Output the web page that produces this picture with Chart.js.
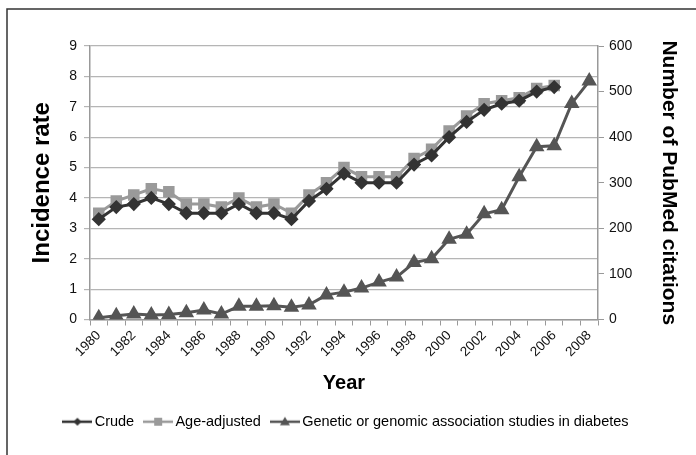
<!DOCTYPE html>
<html lang="en">
<head>
  <meta charset="UTF-8">
  <title>Incidence rate and PubMed citations</title>
  <script src="https://cdn.jsdelivr.net/npm/chart.js"></script>
  <style>
    html, body { margin: 0; padding: 0; background: #fff; }
    #wrap { width: 696px; height: 455px; position: relative; }
  </style>
</head>
<body>
  <div id="wrap"><canvas id="chart" width="696" height="455"></canvas></div>

  <script>
    // Years on the x axis
    const years = ['1980','1981','1982','1983','1984','1985','1986','1987','1988','1989',
                   '1990','1991','1992','1993','1994','1995','1996','1997','1998','1999',
                   '2000','2001','2002','2003','2004','2005','2006','2007','2008'];

    // Incidence rate (left axis), 1980-2006
    const crude = [3.3, 3.7, 3.8, 4.0, 3.8, 3.5, 3.5, 3.5, 3.8, 3.5,
                   3.5, 3.3, 3.9, 4.3, 4.8, 4.5, 4.5, 4.5, 5.1, 5.4,
                   6.0, 6.5, 6.9, 7.1, 7.2, 7.5, 7.65];
    const ageAdjusted = [3.5, 3.9, 4.1, 4.3, 4.2, 3.8, 3.8, 3.7, 4.0, 3.7,
                         3.8, 3.5, 4.1, 4.5, 5.0, 4.7, 4.7, 4.7, 5.3, 5.6,
                         6.2, 6.7, 7.1, 7.2, 7.3, 7.6, 7.7];

    // PubMed citations (right axis), 1980-2008
    const citations = [4, 8, 12, 10, 11, 15, 21, 12, 29, 29,
                       30, 27, 32, 54, 60, 69, 82, 93, 125, 133,
                       176, 187, 232, 241, 313, 379, 381, 474, 523];

    const seriesNames = ['Crude', 'Age-adjusted', 'Genetic or genomic association studies in diabetes'];

    const FONT = "'Liberation Sans', Arial, sans-serif";

    // small picture of line + marker for the legend
    function legendIcon(color, style, r) {
      const c = document.createElement('canvas');
      c.width = 30; c.height = 14;
      const g = c.getContext('2d');
      g.strokeStyle = color; g.lineWidth = 2.5;
      g.beginPath(); g.moveTo(0, 7); g.lineTo(30, 7); g.stroke();
      g.fillStyle = color;
      g.beginPath();
      if (style === 'rectRot') {
        g.moveTo(15, 7 - r); g.lineTo(15 + r, 7); g.lineTo(15, 7 + r); g.lineTo(15 - r, 7);
      } else if (style === 'rect') {
        g.rect(15 - r, 7 - r, 2 * r, 2 * r);
      } else {
        g.moveTo(15, 7 - r); g.lineTo(15 + r, 7 + r * 0.7); g.lineTo(15 - r, 7 + r * 0.7);
      }
      g.closePath(); g.fill();
      return c;
    }

    const frame = {
      id: 'frame',
      beforeDraw(chart) {
        const ctx = chart.ctx;
        ctx.save();
        ctx.strokeStyle = '#333';
        ctx.lineWidth = 1.5;
        ctx.strokeRect(7, 9, 800, 800);
        ctx.restore();
      }
    };

    new Chart(document.getElementById('chart'), {
      type: 'line',
      data: {
        labels: years,
        datasets: [
          {
            label: seriesNames[0],
            data: crude,
            yAxisID: 'y',
            borderColor: '#333333',
            backgroundColor: '#333333',
            borderWidth: 3,
            pointStyle: 'rectRot',
            pointRadius: 5,
            pointHoverRadius: 5,
            tension: 0
          },
          {
            label: seriesNames[1],
            data: ageAdjusted,
            yAxisID: 'y',
            borderColor: '#9a9a9a',
            backgroundColor: '#9a9a9a',
            borderWidth: 3,
            pointStyle: 'rect',
            pointRadius: 6,
            pointHoverRadius: 6,
            tension: 0
          },
          {
            label: seriesNames[2],
            data: citations,
            yAxisID: 'y1',
            borderColor: '#555555',
            backgroundColor: '#555555',
            borderWidth: 3,
            pointStyle: 'triangle',
            pointRadius: 6,
            pointHoverRadius: 6,
            tension: 0
          }
        ]
      },
      options: {
        responsive: false,
        animation: false,
        layout: { padding: { top: 46, bottom: 16, left: 0, right: 0 } },
        plugins: {
          tooltip: { enabled: false },
          legend: {
            position: 'bottom',
            labels: {
              usePointStyle: true,
              pointStyleWidth: 20,
              padding: 14,
              color: '#111',
              font: { family: FONT, size: 14.5 },
              generateLabels(chart) {
                const icons = [
                  legendIcon('#333333', 'rectRot', 4),
                  legendIcon('#9a9a9a', 'rect', 4),
                  legendIcon('#555555', 'triangle', 5)
                ];
                return chart.data.datasets.map((ds, i) => ({
                  text: ds.label,
                  pointStyle: icons[i],
                  fillStyle: ds.borderColor,
                  strokeStyle: ds.borderColor,
                  lineWidth: 0,
                  hidden: false,
                  datasetIndex: i
                }));
              }
            }
          }
        },
        scales: {
          x: {
            offset: true,
            afterFit(s) { s.height = 81; },
            grid: {
              offset: true,
              drawOnChartArea: false,
              drawTicks: true,
              tickLength: 6,
              color: '#999'
            },
            border: { color: '#999', width: 1.5 },
            ticks: {
              autoSkip: false,
              minRotation: 45,
              maxRotation: 45,
              padding: 2,
              color: '#111',
              font: { family: FONT, size: 13.5 },
              callback(v, i) { return i % 2 === 0 ? years[i] : ''; }
            },
            title: {
              display: true,
              text: 'Year',
              color: '#000',
              font: { family: FONT, size: 20, weight: 'bold' },
              padding: { top: 4, bottom: 5 }
            }
          },
          y: {
            position: 'left',
            min: 0,
            max: 9,
            afterFit(s) { s.width = 90; },
            grid: {
              color: '#b5b5b5',
              lineWidth: 1.2,
              drawTicks: true,
              tickLength: 6
            },
            border: { color: '#999', width: 1.5 },
            ticks: {
              stepSize: 1,
              padding: 7,
              color: '#111',
              font: { family: FONT, size: 14 }
            },
            title: {
              display: true,
              text: 'Incidence rate',
              color: '#000',
              font: { family: FONT, size: 24, weight: 'bold' },
              padding: { top: 28, bottom: 0 }
            }
          },
          y1: {
            position: 'right',
            min: 0,
            max: 600,
            afterFit(s) { s.width = 98; },
            grid: {
              drawOnChartArea: false,
              drawTicks: true,
              tickLength: 6,
              color: '#999'
            },
            border: { color: '#999', width: 1.5 },
            ticks: {
              stepSize: 100,
              padding: 5,
              color: '#111',
              font: { family: FONT, size: 14 }
            },
            title: {
              display: true,
              text: 'Number of PubMed citations',
              color: '#000',
              font: { family: FONT, size: 21, weight: 'bold' },
              padding: { top: 15, bottom: 0 }
            }
          }
        }
      },
      plugins: [frame]
    });
  </script>
</body>
</html>
